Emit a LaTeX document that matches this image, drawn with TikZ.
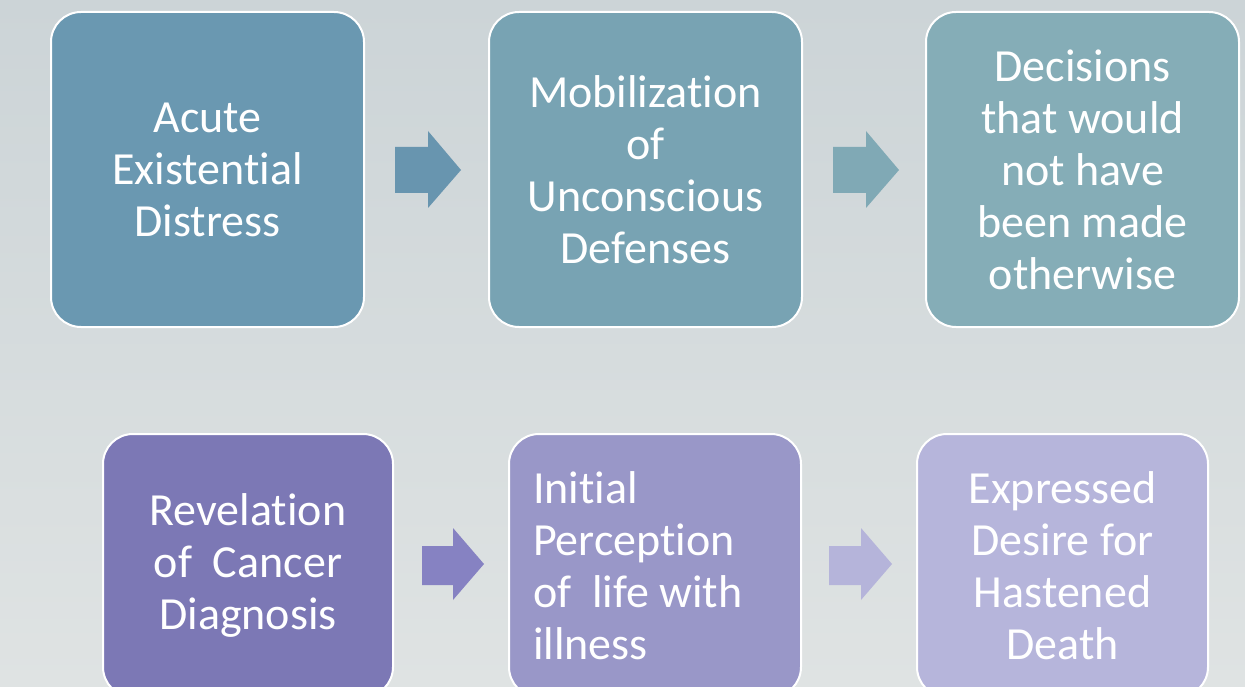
\documentclass[tikz,border=0pt]{standalone}
\usepackage{fontspec}
\setmainfont{Carlito}[Ligatures=NoCommon]
\definecolor{bgtop}{HTML}{CCD4D7}
\definecolor{bgbot}{HTML}{DFE3E3}
\definecolor{cA}{HTML}{6A98B1}
\definecolor{cB}{HTML}{78A3B3}
\definecolor{cC}{HTML}{85ADB7}
\definecolor{cD}{HTML}{7C78B5}
\definecolor{cE}{HTML}{9997C8}
\definecolor{cF}{HTML}{B6B5DB}
\definecolor{aA}{HTML}{6895AF}
\definecolor{aB}{HTML}{80A9B5}
\definecolor{aC}{HTML}{8682C2}
\definecolor{aD}{HTML}{B5B4DA}
\tikzset{
  stepbox/.style={rounded corners=30pt, draw=white, line width=2pt, text=white,
    inner sep=0pt, align=center, font=\fontsize{46}{52}\selectfont},
  blockarrow/.style={draw=none}
}
\begin{document}
\begin{tikzpicture}[x=1pt,y=-1pt]
\useasboundingbox (0,0) rectangle (1245,687);
\shade[top color=bgtop, bottom color=bgbot] (0,0) rectangle (1245,687);
\clip (0,0) rectangle (1245,687);
% top row
\node[stepbox, fill=cA, minimum width=313pt, minimum height=315pt] (b1) at (207.5,169.5)
  {Acute\\Existential\\Distress};
\node[stepbox, fill=cB, minimum width=313pt, minimum height=315pt] (b2) at (645.5,169.5)
  {Mobilization\\of\\Unconscious\\Defenses};
\node[stepbox, fill=cC, minimum width=313pt, minimum height=315pt] (b3) at (1082.5,169.5)
  {Decisions\\that would\\not have\\been made\\otherwise};
% bottom row
\node[stepbox, fill=cD, minimum width=290pt, minimum height=263pt] (b4) at (248,565.5)
  {Revelation\\of\ \ Cancer\\Diagnosis};
\node[stepbox, fill=cE, minimum width=292pt, minimum height=263pt, text width=244pt, align=flush left] (b5) at (655,565.5)
  {Initial\\Perception\\of\ \ life with\\illness};
\node[stepbox, fill=cF, minimum width=291pt, minimum height=263pt] (b6) at (1062.5,565.5)
  {Expressed\\Desire for\\Hastened\\Death};
% block arrows
\fill[aA] (395,147) -- (428,147) -- (428,131) -- (461,170) -- (428,208) -- (428,193) -- (395,193) -- cycle;
\fill[aB] (833,147) -- (866,147) -- (866,131) -- (899,170) -- (866,208) -- (866,193) -- (833,193) -- cycle;
\fill[aC] (422,546) -- (453,546) -- (453,528) -- (484,564) -- (453,600) -- (453,585) -- (422,585) -- cycle;
\fill[aD] (829,546) -- (861,546) -- (861,528) -- (892,564) -- (861,600) -- (861,585) -- (829,585) -- cycle;
\end{tikzpicture}
\end{document}
